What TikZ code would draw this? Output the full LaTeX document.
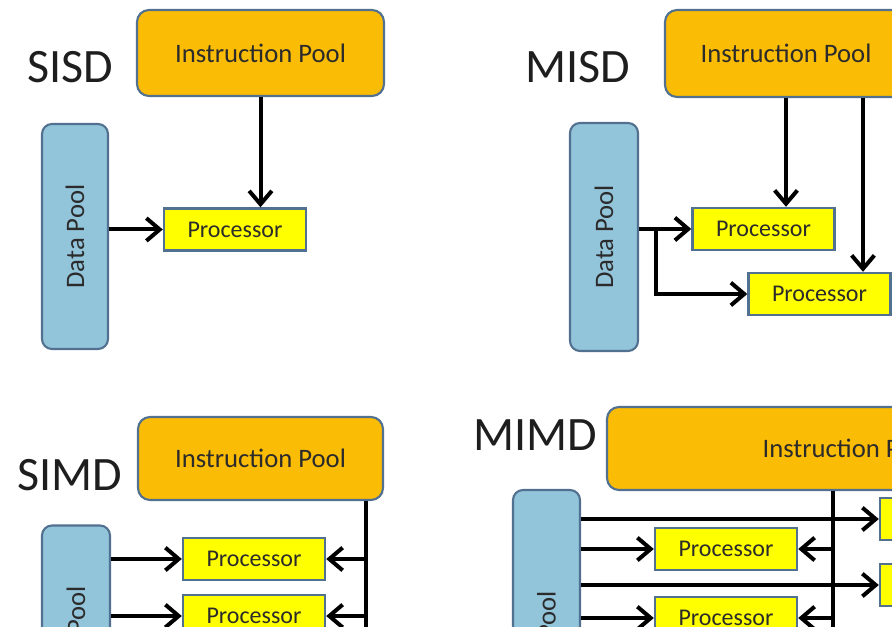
\documentclass[tikz,border=0pt]{standalone}
\usepackage{fontspec}
\setmainfont{Carlito}
\usetikzlibrary{arrows.meta,calc}
\definecolor{poolorange}{HTML}{FBBC05}
\definecolor{poolblue}{HTML}{92C4DA}
\definecolor{procyellow}{HTML}{FFFF00}
\definecolor{edgeblue}{HTML}{52708F}
\definecolor{boxtext}{HTML}{2B2B2B}
\definecolor{labeltext}{HTML}{1E1E1E}
\begin{document}
\begin{tikzpicture}[x=0.75pt,y=-0.75pt,
  lbl/.style={font=\fontsize{36}{40}\selectfont, text=labeltext, inner sep=0},
  ipool/.style={draw=edgeblue, line width=1.6pt, fill=poolorange, rounded corners=9pt,
    font=\fontsize{20}{24}\selectfont, text=boxtext, inner sep=0},
  dpool/.style={draw=edgeblue, line width=1.6pt, fill=poolblue, rounded corners=7.5pt, inner sep=0},
  dtext/.style={rotate=90, font=\fontsize{20}{24}\selectfont, text=boxtext, inner sep=0},
  proc/.style={draw=edgeblue, line width=1.8pt, fill=procyellow, minimum width=106.5pt,
    minimum height=31.5pt, font=\fontsize{18}{22}\selectfont, text=boxtext, inner sep=0},
  wire/.style={line width=3pt, black},
  arr/.style={wire, -{Straight Barb[length=10pt,width=17pt]}}
]
\useasboundingbox (0,0) rectangle (892,627);
\clip (0,0) rectangle (892,627);

% ---------- SISD ----------
\node[lbl] (sisdL) at (70,67) {SISD};
\node[ipool, minimum width=185.25pt, minimum height=64.5pt] (sisdI) at (260.5,53) {Instruction Pool};
\node[dpool, minimum width=49.5pt, minimum height=168.75pt] (sisdD) at (75,236.5) {};
\node[dtext] (sisdDt) at (sisdD) {Data Pool};
\node[proc] (sisdP) at (235,229.5) {Processor};
\draw[arr] (sisdI.south) -- (sisdI.south |- sisdP.north);
\draw[arr] (sisdD.east |- sisdP) -- (sisdP.west);

% ---------- MISD ----------
\node[lbl] (misdL) at (578,67) {MISD};
\node[ipool, minimum width=181.5pt, minimum height=65.25pt] (misdI) at (786,53.5) {Instruction Pool};
\node[dpool, minimum width=51pt, minimum height=171pt] (misdD) at (604,237) {};
\node[dtext] (misdDt) at (misdD) {Data Pool};
\node[proc] (misdP1) at (763.5,229) {Processor};
\node[proc] (misdP2) at (819.5,294) {Processor};
\coordinate (misdTap) at ($(misdI.south)+(77,0)$);
\draw[arr] (misdI.south) -- (misdI.south |- misdP1.north);
\draw[arr] (misdTap) -- (misdTap |- misdP2.north);
\draw[arr] (misdD.east |- misdP1) -- (misdP1.west);
\coordinate (misdFork) at ($(misdD.east |- misdP1)+(17,0)$);
\draw[arr] (misdFork) |- (misdP2.west);

% ---------- SIMD ----------
\node[lbl] (simdL) at (70,475) {SIMD};
\node[ipool, minimum width=183.75pt, minimum height=62.25pt] (simdI) at (260.5,458.5) {Instruction Pool};
\node[dpool, minimum width=51pt, minimum height=168.75pt] (simdD) at (76,638) {};
\node[dtext] (simdDt) at (simdD) {Data Pool};
\node[proc] (simdP1) at (254,559) {Processor};
\node[proc] (simdP2) at (254,616) {Processor};
\coordinate (simdBus) at ($(simdI.south east)+(-18,0)$);
\coordinate (simdEnd) at ($(simdBus)+(0,220)$);
\draw[wire] (simdBus) -- (simdEnd);
\draw[arr] (simdBus |- simdP1) -- (simdP1.east);
\draw[arr] (simdBus |- simdP2) -- (simdP2.east);
\draw[arr] (simdD.east |- simdP1) -- (simdP1.west);
\draw[arr] (simdD.east |- simdP2) -- (simdP2.west);

% ---------- MIMD ----------
\node[lbl] (mimdL) at (535,435) {MIMD};
\node[ipool, minimum width=361.5pt, minimum height=62.25pt] (mimdI) at (848,448.5) {Instruction Pool};
\node[dpool, minimum width=50.25pt, minimum height=229.5pt] (mimdD) at (546.5,643) {};
\node[dtext] (mimdDt) at (mimdD) {Data Pool};
\node[proc] (mimdP1) at (726,549) {Processor};
\node[proc] (mimdP2) at (726,618) {Processor};
\node[proc] (mimdR1) at (951,519) {Processor};
\node[proc] (mimdR2) at (951,585) {Processor};
\coordinate (mimdBus) at ($(mimdI.south)+(-15,0)$);
\coordinate (mimdEnd) at ($(mimdBus)+(0,220)$);
\draw[wire] (mimdBus) -- (mimdEnd);
\draw[arr] (mimdBus |- mimdP1) -- (mimdP1.east);
\draw[arr] (mimdBus |- mimdP2) -- (mimdP2.east);
\draw[arr] (mimdD.east |- mimdR1) -- (mimdR1.west);
\draw[arr] (mimdD.east |- mimdP1) -- (mimdP1.west);
\draw[arr] (mimdD.east |- mimdR2) -- (mimdR2.west);
\draw[arr] (mimdD.east |- mimdP2) -- (mimdP2.west);
\end{tikzpicture}
\end{document}
